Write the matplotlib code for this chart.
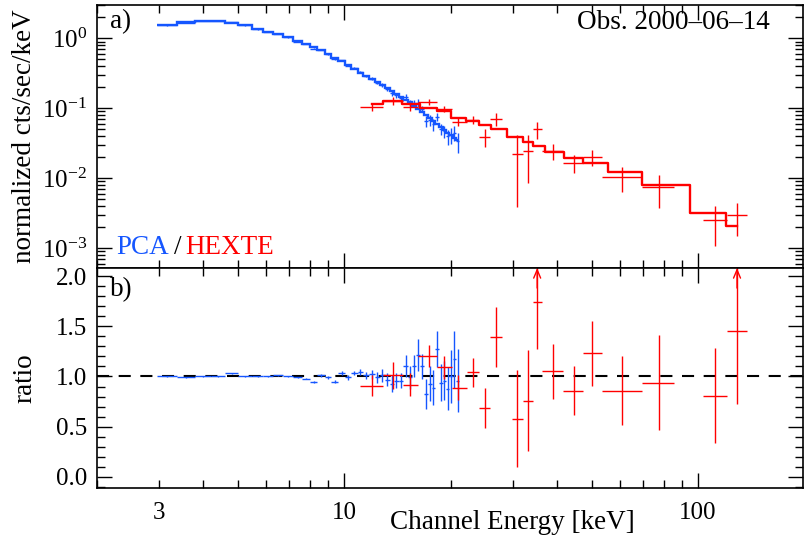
import matplotlib.pyplot as plt
import numpy as np
from matplotlib.ticker import LogLocator, MultipleLocator, FuncFormatter, NullFormatter, FormatStrFormatter

plt.rcParams['font.family'] = ['Liberation Serif', 'DejaVu Serif']
plt.rcParams['mathtext.fontset'] = 'custom'
plt.rcParams['mathtext.rm'] = 'Liberation Serif'
plt.rcParams['mathtext.it'] = 'Liberation Serif:italic'

# PCA channel bins (keV), folded model and data/model ratio
pca_edges = [2.96, 3.37, 3.79, 4.20, 4.61, 5.02, 5.50, 5.90, 6.30, 6.73,
             7.18, 7.60, 8.00, 8.40, 8.80, 9.20, 9.60, 10.05, 10.45, 10.90,
             11.30, 11.75, 12.20, 12.60, 13.00, 13.45, 13.85, 14.25, 14.70, 15.10,
             15.55, 16.00, 16.40, 16.85, 17.25, 17.65, 18.10, 18.55, 19.00, 19.40,
             19.80, 20.25, 20.70, 21.10]
pca_model = [1.53, 1.69, 1.77, 1.77, 1.65, 1.53, 1.34, 1.22, 1.15, 1.03,
             0.91, 0.84, 0.75, 0.68, 0.60, 0.53, 0.47, 0.41, 0.37, 0.32,
             0.29, 0.26, 0.235, 0.212, 0.195, 0.176, 0.160, 0.146, 0.132, 0.121,
             0.109, 0.099, 0.089, 0.080, 0.073, 0.066, 0.060, 0.054, 0.049, 0.045,
             0.041, 0.038, 0.035]
pca_ratio = [1.00, 0.99, 1.00, 1.00, 1.03, 1.00, 1.00, 1.00, 1.01, 1.00,
             0.99, 0.98, 0.95, 1.01, 0.99, 0.95, 1.03, 0.99, 1.03, 1.04,
             1.01, 1.02, 0.99, 1.01, 0.97, 0.93, 0.96, 0.96, 1.10, 0.99,
             1.10, 1.21, 1.10, 0.83, 0.93, 0.89, 1.27, 0.94, 0.96, 0.88,
             1.00, 1.17, 0.96]
pca_err = [0.004, 0.004, 0.004, 0.004, 0.004, 0.004, 0.004, 0.005, 0.005, 0.005,
           0.005, 0.005, 0.010, 0.015, 0.015, 0.015, 0.020, 0.020, 0.020, 0.030,
           0.030, 0.040, 0.050, 0.060, 0.060, 0.085, 0.075, 0.075, 0.110, 0.110,
           0.110, 0.160, 0.120, 0.150, 0.170, 0.170, 0.180, 0.180, 0.190, 0.210,
           0.260, 0.280, 0.310]

# HEXTE grouped bins (keV), folded model and data/model ratio
hx_energy = [12.0, 13.75, 15.36, 17.39, 19.17, 20.99, 23.14, 25.02, 26.88, 30.82,
             33.1, 35.1, 38.95, 44.65, 50.2, 61.0, 77.6, 111.7, 128.9]
hx_lo = [11.1, 12.9, 14.68, 16.18, 18.31, 20.19, 22.26, 24.07, 25.85, 29.83,
         32.03, 34.2, 36.25, 41.56, 47.33, 53.57, 69.5, 103.3, 120.8]
hx_hi = [12.9, 14.68, 16.18, 18.31, 20.19, 22.26, 24.07, 25.85, 27.95, 32.03,
         34.2, 36.25, 41.56, 47.33, 53.57, 69.5, 85.5, 120.8, 137.5]
hx_model = [0.114, 0.127, 0.114, 0.102, 0.0906, 0.072, 0.0652, 0.0572, 0.0513, 0.0385,
            0.0327, 0.0286, 0.0235, 0.0193, 0.0164, 0.0122, 0.0079, 0.00316, 0.00206]
hx_ratio = [0.91, 1.01, 0.92, 1.20, 1.09, 0.89, 1.04, 0.69, 1.39, 0.58,
            0.76, 1.74, 1.05, 0.86, 1.23, 0.86, 0.94, 0.81, 1.45]
hx_err = [0.10, 0.13, 0.11, 0.11, 0.11, 0.12, 0.14, 0.20, 0.30, 0.48,
          0.50, 0.47, 0.27, 0.245, 0.32, 0.34, 0.47, 0.47, 0.72]

blue = '#1556ff'
red = '#ff0000'

edges = np.array(pca_edges)
p_mod = np.array(pca_model)
p_rat = np.array(pca_ratio)
p_err = np.array(pca_err)
p_cen = np.sqrt(edges[:-1] * edges[1:])
p_xerr = [p_cen - edges[:-1], edges[1:] - p_cen]

h_e = np.array(hx_energy)
h_mod = np.array(hx_model)
h_rat = np.array(hx_ratio)
h_err = np.array(hx_err)
h_xerr = [h_e - np.array(hx_lo), np.array(hx_hi) - h_e]

fig = plt.figure(figsize=(8.07, 5.44), dpi=100)
ax1 = fig.add_axes([0.1202, 0.5074, 0.8748, 0.4834])
ax2 = fig.add_axes([0.1202, 0.1029, 0.8748, 0.4045])

# spectrum panel
ax1.stairs(p_mod, edges, baseline=None, color=blue, lw=1.7)
ax1.errorbar(p_cen, p_mod * p_rat, xerr=p_xerr, yerr=p_mod * p_err,
             fmt='none', ecolor=blue, elinewidth=1.0, capsize=0)
ax1.step(h_e, h_mod, where='mid', color=red, lw=1.7)
ax1.errorbar(h_e, h_mod * h_rat, xerr=h_xerr, yerr=h_mod * h_err,
             fmt='none', ecolor=red, elinewidth=1.0, capsize=0)

# ratio panel
ylo, yhi = -0.11, 2.08
ax2.axhline(1.0, color='k', ls=(0, (5.8, 4.6)), lw=1.5, zorder=1)
ax2.errorbar(p_cen, p_rat, xerr=p_xerr, yerr=p_err,
             fmt='none', ecolor=blue, elinewidth=1.0, capsize=0, zorder=2)
ax2.errorbar(h_e, h_rat, xerr=h_xerr, yerr=h_err,
             fmt='none', ecolor=red, elinewidth=1.0, capsize=0, zorder=2)
for e, r, s in zip(h_e, h_rat, h_err):
    if r + s > yhi:
        ax2.annotate('', xy=(e, yhi), xytext=(e, yhi - 0.2),
                     arrowprops=dict(arrowstyle='->,head_length=0.6,head_width=0.25',
                                     color=red, lw=1.0, shrinkA=0, shrinkB=0))

for ax in (ax1, ax2):
    ax.set_xscale('log')
    ax.set_xlim(2.0, 198)
    ax.xaxis.set_major_locator(LogLocator(base=10))
    ax.xaxis.set_minor_locator(LogLocator(base=10, subs=np.arange(2, 10)))
    ax.tick_params(which='both', direction='in', top=True, right=True,
                   labelsize=18, width=1.0)
    ax.tick_params(which='major', length=11)
    ax.tick_params(which='minor', length=6)
    ax.tick_params(axis='x', which='both', pad=10)
    ax.tick_params(axis='y', which='both', pad=7)
    for sp in ax.spines.values():
        sp.set_linewidth(1.2)

ax1.set_yscale('log')
ax1.set_ylim(5.2e-4, 3.0)
ax1.yaxis.set_minor_locator(LogLocator(base=10, subs=np.arange(2, 10)))
ax1.yaxis.set_minor_formatter(NullFormatter())
ax1.tick_params(which='both', labelbottom=False)

ax2.set_ylim(ylo, yhi)
ax2.yaxis.set_major_locator(MultipleLocator(0.5))
ax2.yaxis.set_minor_locator(MultipleLocator(0.1))
ax2.yaxis.set_major_formatter(FormatStrFormatter('%.1f'))
ax2.xaxis.set_major_formatter(FuncFormatter(lambda v, p: '%g' % v))
ax2.xaxis.set_minor_formatter(FuncFormatter(lambda v, p: '3' if abs(v - 3) < 1e-6 else ''))

fs = 19.5
ax1.set_ylabel('normalized cts/sec/keV', fontsize=fs)
ax1.yaxis.set_label_coords(-0.085, 0.5)
ax2.set_ylabel('ratio', fontsize=fs)
ax2.yaxis.set_label_coords(-0.085, 0.5)
ax2.set_xlabel('Channel Energy [keV]', fontsize=fs)
ax2.xaxis.label.set_va('center')
ax2.xaxis.set_label_coords(0.588, -0.155)

ax1.text(0.018, 0.935, 'a)', transform=ax1.transAxes, fontsize=fs, va='center')
ax2.text(0.018, 0.90, 'b)', transform=ax2.transAxes, fontsize=fs, va='center')
ax1.text(0.953, 0.935, 'Obs. 2000\u201306\u201314', transform=ax1.transAxes,
         fontsize=fs, va='center', ha='right')

t1 = ax1.text(0.028, 0.076, 'PCA', transform=ax1.transAxes, fontsize=fs,
              color=blue, va='center')
t2 = ax1.annotate('/', xy=(1, 0), xycoords=t1, xytext=(3, 0),
                  textcoords='offset points', fontsize=fs, va='bottom')
ax1.annotate('HEXTE', xy=(1, 0), xycoords=t2, xytext=(3, 0),
             textcoords='offset points', fontsize=fs, color=red, va='bottom')

fig.savefig('out.png', dpi=100)
